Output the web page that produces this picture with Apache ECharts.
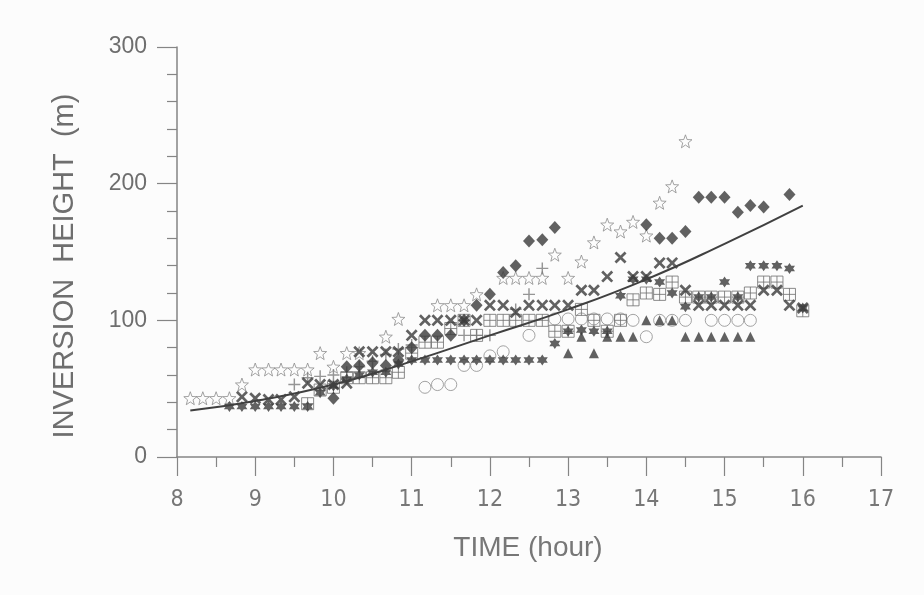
<!DOCTYPE html>
<html><head><meta charset="utf-8">
<script src="https://cdn.jsdelivr.net/npm/echarts@6/dist/echarts.min.js"></script>
<style>html,body{margin:0;padding:0;background:#fcfcfc}#c{width:924px;height:595px}</style>
</head><body><div id="c"></div>
<script>
// ---- data (time in hours, inversion height in m) ----
const xTicks = [8, 9, 10, 11, 12, 13, 14, 15, 16, 17];
const yTicks = [0, 100, 200, 300];

const hollowStars = [[8.17,43],[8.33,43],[8.5,43],[8.67,43],[8.83,53],[9.0,64],[9.17,64],[9.33,64],[9.5,64],[9.67,64],[9.83,76],[10.0,66],[10.17,76],[10.33,76],[10.67,88],[10.83,101],[11.33,111],[11.5,111],[11.67,111],[11.83,119],[12.17,131],[12.33,131],[12.5,131],[12.67,131],[12.83,148],[13.0,131],[13.17,143],[13.33,157],[13.5,170],[13.67,165],[13.83,172],[14.0,162],[14.17,186],[14.33,198],[14.5,231]];
const diamonds = [[10.0,43],[10.17,66],[10.33,67],[10.5,69],[10.67,67],[10.83,71],[11.0,80],[11.17,89],[11.33,89],[11.5,89],[11.67,100],[11.83,111],[12.0,119],[12.17,135],[12.33,140],[12.5,158],[12.67,159],[12.83,168],[14.0,170],[14.17,160],[14.33,160],[14.5,165],[14.67,190],[14.83,190],[15.0,190],[15.17,179],[15.33,184],[15.5,183],[15.83,192]];
const crosses = [[8.83,44],[9.0,43],[9.17,42],[9.33,42],[9.5,44],[9.67,54],[9.83,53],[10.0,53],[10.17,54],[10.33,77],[10.5,77],[10.67,77],[10.83,77],[11.0,89],[11.17,100],[11.33,100],[11.5,100],[11.67,100],[11.83,100],[12.0,111],[12.17,111],[12.33,106],[12.5,111],[12.67,111],[12.83,111],[13.0,111],[13.17,122],[13.33,122],[13.5,132],[13.67,146],[13.83,132],[14.0,132],[14.17,142],[14.33,142],[14.5,122],[14.67,111],[14.83,111],[15.0,111],[15.17,111],[15.33,111],[15.5,122],[15.67,122],[15.83,111],[16.0,109]];
const boxes = [[9.67,39],[9.83,49],[10.0,51],[10.17,58],[10.33,58],[10.5,58],[10.67,58],[10.83,62],[11.0,76],[11.17,84],[11.33,84],[11.5,94],[11.67,100],[11.83,89],[12.0,100],[12.17,100],[12.33,100],[12.5,100],[12.67,100],[12.83,92],[13.0,92],[13.17,108],[13.33,100],[13.5,92],[13.67,100],[13.83,115],[14.0,120],[14.17,119],[14.33,128],[14.5,117],[14.67,117],[14.83,117],[15.0,117],[15.17,117],[15.33,120],[15.5,128],[15.67,128],[15.83,119],[16.0,107]];
const pluses = [[9.5,53],[9.67,58],[9.83,59],[10.0,60],[10.17,62],[10.33,66],[10.5,70],[10.67,75],[10.83,79],[11.0,82],[11.67,89],[11.83,89],[12.0,89],[12.33,108],[12.5,119],[12.67,138]];
const circles = [[11.17,51],[11.33,53],[11.5,53],[11.67,67],[11.83,67],[12.0,74],[12.17,77],[12.5,89],[12.83,101],[13.0,101],[13.17,101],[13.33,101],[13.5,101],[13.67,101],[13.83,100],[14.0,88],[14.17,100],[14.33,100],[14.5,100],[14.83,100],[15.0,100],[15.17,100],[15.33,100]];
const triangles = [[13.0,76],[13.17,88],[13.33,76],[13.5,88],[13.67,88],[13.83,88],[14.0,100],[14.17,100],[14.33,100],[14.5,88],[14.67,88],[14.83,88],[15.0,88],[15.17,88],[15.33,88]];
const hexStars = [[8.67,37],[8.83,37],[9.0,37],[9.17,37],[9.33,37],[9.5,37],[9.67,37],[9.83,47],[10.0,52],[10.17,57],[10.33,60],[10.5,62],[10.67,62],[10.83,68],[11.0,71],[11.17,71],[11.33,71],[11.5,71],[11.67,71],[11.83,71],[12.0,71],[12.17,71],[12.33,71],[12.5,71],[12.67,71],[12.83,83],[13.0,92],[13.17,93],[13.33,92],[13.5,92],[13.67,118],[13.83,130],[14.0,130],[14.17,128],[14.33,120],[14.5,110],[14.67,117],[14.83,117],[15.0,128],[15.17,117],[15.33,140],[15.5,140],[15.67,140],[15.83,138],[16.0,109]];
const fitCurve = [[8.17,34],[9,41],[10,53],[11,70],[12,89],[13,108],[14,130],[15,156],[16,184]];

// ---- symbols ----
function starPath(){let p='';for(let i=0;i<10;i++){const r=i%2?2.1:5;const a=-Math.PI/2+i*Math.PI/5;p+=(i?'L':'M')+(5+r*Math.cos(a)).toFixed(2)+','+(5+r*Math.sin(a)).toFixed(2);}return 'path://'+p+'Z';}
const SYM_STAR = starPath();
const SYM_X = 'path://M0,1.6L1.6,0L5,3.4L8.4,0L10,1.6L6.6,5L10,8.4L8.4,10L5,6.6L1.6,10L0,8.4L3.4,5Z';
const SYM_PLUS = 'path://M4.4,0H5.6V4.4H10V5.6H5.6V10H4.4V5.6H0V4.4H4.4Z';
const SYM_BOX = 'path://M0,0H10V10H0Z M0,5H10 M5,0V10';
const SYM_HEX = 'path://M5,0L9.33,7.5L0.67,7.5Z M5,10L0.67,2.5L9.33,2.5Z';

const dark = '#3a3a3a';
function sc(data, symbol, size, style){return {type:'scatter', data, symbol, symbolSize:size, itemStyle:style, silent:true};}

const chart = echarts.init(document.getElementById('c'), null, {renderer:'canvas'});
const axisColor = '#858585', textColor = '#6e6e6e';
chart.setOption({
  backgroundColor:'#fcfcfc',
  animation:false,
  grid:{left:177, right:43, top:47, bottom:138},
  xAxis:{type:'value', min:xTicks[0], max:xTicks[xTicks.length-1], interval:1,
    axisLine:{lineStyle:{color:axisColor, width:1.5}},
    axisTick:{length:19, lineStyle:{color:axisColor, width:1.2}},
    minorTick:{show:true, splitNumber:2, length:10, lineStyle:{color:axisColor, width:1.2}},
    splitLine:{show:false},
    axisLabel:{margin:32, color:'#777', fontSize:23, fontFamily:"'Liberation Sans Narrow','DejaVu Sans Condensed','Liberation Sans',sans-serif"}},
  yAxis:{type:'value', min:yTicks[0], max:yTicks[yTicks.length-1], interval:100,
    axisLine:{show:true, lineStyle:{color:axisColor, width:1.5}},
    axisTick:{show:true, length:20, lineStyle:{color:axisColor, width:1.2}},
    minorTick:{show:true, splitNumber:5, length:10, lineStyle:{color:axisColor, width:1.2}},
    splitLine:{show:false},
    axisLabel:{margin:30, color:textColor, fontSize:23, fontFamily:"'Liberation Sans',sans-serif"}},
  graphic:[
    {type:'text', x:528, y:548, style:{text:'TIME (hour)', fill:'#777', font:"28px 'Liberation Sans',sans-serif", align:'center', verticalAlign:'middle'}},
    {type:'text', x:65, y:266, rotation:Math.PI/2, style:{text:'INVERSION  HEIGHT  (m)', fill:textColor, font:"29px 'Liberation Sans',sans-serif", align:'center', verticalAlign:'middle'}}
  ],
  series:[
    sc(hollowStars, SYM_STAR, 13, {color:'rgba(255,255,255,0)', borderColor:'#8c8c8c', borderWidth:1}),
    sc(circles, 'circle', 12, {color:'rgba(255,255,255,0)', borderColor:'#8c8c8c', borderWidth:1}),
    sc(boxes, SYM_BOX, 12, {color:'rgba(255,255,255,0)', borderColor:'#6e6e6e', borderWidth:1}),
    sc(pluses, SYM_PLUS, 12, {color:'#7a7a7a'}),
    sc(triangles, 'triangle', 10, {color:dark}),
    sc(crosses, SYM_X, 12, {color:dark}),
    sc(hexStars, SYM_HEX, 11, {color:dark}),
    sc(diamonds, 'diamond', [12,13], {color:dark}),
    {type:'line', data:fitCurve, smooth:true, showSymbol:false, silent:true, lineStyle:{color:'#404040', width:2}, z:5}
  ]
});
</script></body></html>
